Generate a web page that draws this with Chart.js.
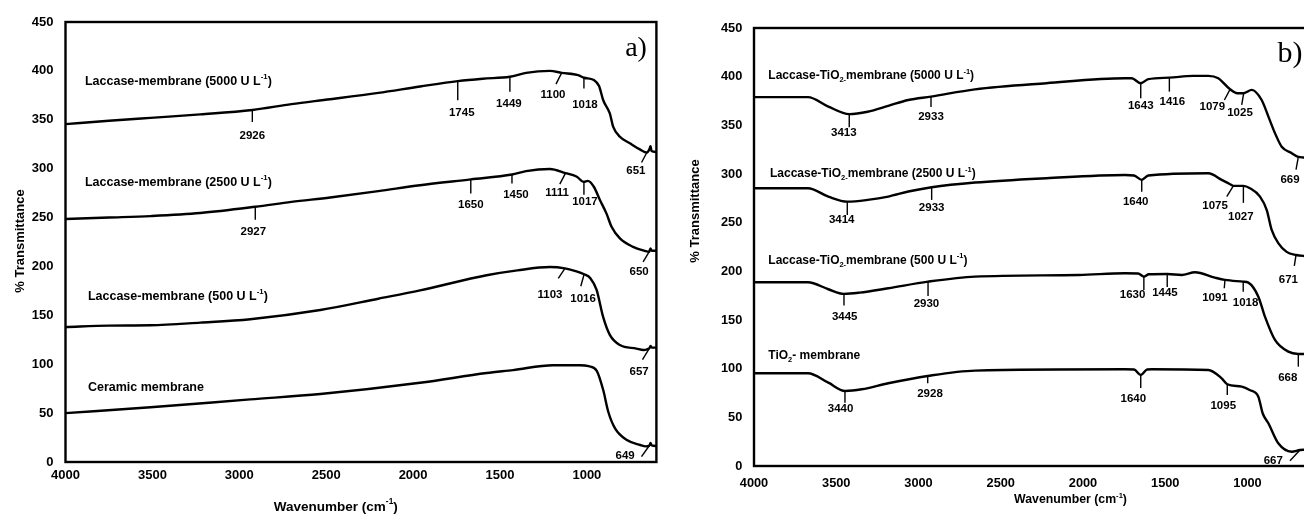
<!DOCTYPE html>
<html>
<head>
<meta charset="utf-8">
<title>FTIR spectra</title>
<script src="https://cdn.jsdelivr.net/npm/chart.js@4.4.1/dist/chart.umd.min.js"></script>
<style>
    html, body { margin: 0; padding: 0; background: #fff; overflow: hidden; width: 1304px; height: 518px; }
    .panel { position: absolute; top: 0; width: 670px; height: 518px; }
    #pa { left: 0; }
    #pb { left: 660px; }
</style>
</head>
<body>
<div class="panel" id="pa"><canvas id="chartA" width="670" height="518"></canvas></div>
<div class="panel" id="pb"><canvas id="chartB" width="670" height="518"></canvas></div>
<script>
// --- DATA (wavenumber cm-1 / % transmittance, offset) ---
const xTicks = [4000, 3500, 3000, 2500, 2000, 1500, 1000];
const yTicks = [0, 50, 100, 150, 200, 250, 300, 350, 400, 450];

// Panel a
const wnA1 = [4000, 3750, 3511, 3224, 2925, 2700, 2477, 2200, 1960, 1743, 1600, 1443, 1350, 1213, 1145, 1050, 1017, 960, 930, 906, 868, 849, 810, 753, 695, 655, 640, 634, 628, 600];
const tA1  = [345.5, 349, 352, 355.5, 360, 366, 371, 377.5, 384, 389.5, 392, 394, 398, 400, 398, 395.7, 393, 390.6, 384.5, 370, 356.5, 343, 332.6, 326, 319.7, 316.5, 320, 323, 318, 317];
const wnA2 = [4000, 3750, 3511, 3224, 2908, 2700, 2477, 2200, 1960, 1668, 1431, 1350, 1213, 1123, 1060, 1017, 995, 960, 925, 887, 858, 810, 734, 667, 642, 634, 627, 600];
const tA2  = [248.5, 250, 251.5, 254.6, 261, 266, 270.5, 277, 283, 289, 294, 297.5, 299.6, 295.5, 292, 286.5, 287.5, 281.5, 268, 254, 240.6, 228.7, 220, 216, 215, 218.5, 216, 216];
const wnA3 = [4000, 3750, 3511, 3224, 2937, 2534, 2200, 1960, 1577, 1400, 1213, 1126, 1060, 1016, 980, 944, 907, 868, 810, 715, 676, 650, 638, 634, 627, 600];
const tA3  = [138, 139.5, 139.8, 142.5, 146, 155.4, 167, 175.5, 191, 196, 199.4, 198, 195, 192, 188, 176, 148.6, 130, 119.6, 116, 114.5, 115.5, 117, 118.6, 117, 117];
const wnA4 = [4000, 3511, 2937, 2534, 1960, 1577, 1425, 1195, 1040, 990, 944, 906, 877, 838, 770, 693, 660, 645, 638, 634, 627, 600];
const tA4  = [50, 56, 64, 69.5, 81, 91, 94, 99, 99, 98, 93.5, 73.6, 51.4, 34.4, 22.5, 17.4, 16, 16.5, 17.4, 19.5, 17, 16.4];

// Panel b
const wnB1 = [4000, 3672, 3548, 3421, 3309, 3184, 3062, 2924, 2657, 2223, 1745, 1704, 1649, 1603, 1475, 1333, 1238, 1178, 1106, 1062, 1023, 974, 914, 873, 833, 792, 731, 691, 661, 600];
const tB1  = [379, 379, 369.3, 361.5, 364, 370, 376, 379.5, 387, 393.3, 398.4, 398.4, 393.3, 397.4, 399, 400.8, 400.8, 398.4, 387, 383, 383, 386.4, 376, 359, 342, 328, 321.4, 317.5, 317, 316.5];
const wnB2 = [4000, 3672, 3548, 3433, 3309, 3184, 3062, 2920, 2657, 2223, 1745, 1690, 1643, 1603, 1238, 1157, 1111, 1086, 1025, 985, 924, 883, 853, 813, 762, 705, 657, 600];
const tB2  = [285.4, 285.4, 276.8, 271.6, 273.4, 276.8, 282, 286.4, 291.2, 295.7, 299, 298.5, 294, 298.4, 300.8, 294, 290, 287.8, 287.8, 285.4, 276.8, 263, 242.5, 229, 220, 216.8, 215.8, 215.5];
const wnB3 = [4000, 3672, 3548, 3453, 3358, 3184, 2942, 2657, 2024, 1745, 1665, 1630, 1600, 1488, 1400, 1319, 1198, 1137, 1026, 995, 934, 894, 833, 752, 691, 600];
const tB3  = [188.8, 188.8, 181.6, 176.8, 178.1, 182.6, 189.4, 194.6, 196.3, 198, 197.8, 194.6, 197, 197.3, 196.3, 199, 193.5, 191.2, 189.4, 188.4, 174, 153.4, 129.5, 117.5, 115.1, 115];
const wnB4 = [4000, 3672, 3548, 3447, 3345, 3184, 2944, 2657, 1745, 1690, 1649, 1610, 1582, 1238, 1157, 1123, 1035, 987, 934, 908, 873, 813, 731, 681, 600];
const tB4  = [95.3, 95.3, 85.6, 77.1, 78.8, 85, 92.5, 98, 99.4, 99.2, 93.5, 99.2, 99.4, 98.7, 90.1, 84, 81.5, 78.1, 71.2, 54.2, 43.9, 23.3, 14.7, 16.4, 17];

// series names: [text, 0 normal | 1 superscript | -1 subscript]
const namesA = [
    [['Laccase-membrane (5000 U L', 0], ['-1', 1], [')', 0]],
    [['Laccase-membrane (2500 U L', 0], ['-1', 1], [')', 0]],
    [['Laccase-membrane (500 U L', 0], ['-1', 1], [')', 0]],
    [['Ceramic membrane', 0]]
];
const namesB = [
    [['Laccase-TiO', 0], ['2-', -1], ['membrane (5000 U L', 0], ['-1', 1], [')', 0]],
    [['Laccase-TiO', 0], ['2-', -1], ['membrane (2500 U L', 0], ['-1', 1], [')', 0]],
    [['Laccase-TiO', 0], ['2-', -1], ['membrane (500 U L', 0], ['-1', 1], [')', 0]],
    [['TiO', 0], ['2', -1], ['- membrane', 0]]
];
const nameAtA = [[3888, 389], [3888, 286], [3871, 169.7], [3871, 76]];
const nameAtB = [[3913, 400.8], [3903, 300], [3913, 211], [3913, 113]];

// peak marks: [label, wavenumber on curve, value on curve, tick dx, tick dy, label dx, label dy]
const peaksA = [
    ['2926', 2925, 360, 0, 12, 0, 25.7], ['1745', 1743, 389.5, 0, 19, 4, 31.7], ['1449', 1443, 394, 0, 15, -1, 27.3],
    ['1100', 1145, 398, -5.7, 11.3, -8.7, 22.3], ['1018', 1017, 393, 0, 10.7, 1, 27], ['651', 655, 316.5, -5.3, 10, -11, 18.7],
    ['2927', 2908, 261, 0, 13, -2, 25], ['1650', 1668, 289, 0, 14, 0, 25], ['1450', 1431, 294, 0, 9, 4, 20.5],
    ['1111', 1123, 295.5, -5.7, 11, -8.4, 20], ['1017', 1017, 286.5, 0, 13, 1, 19.7], ['650', 642, 215, -6, 10, -10, 20],
    ['1103', 1126, 198, -6.7, 10, -15, 26.7], ['1016', 1016, 192, -3.3, 12, -1, 24.3], ['657', 638, 117, -7.3, 12, -10.7, 24.4],
    ['649', 638, 17.4, -8.3, 11.7, -24.7, 11]
];
const peaksB = [
    ['3413', 3421, 361.5, 0, 13, -5.4, 18.4], ['2933', 2924, 379.5, 0, 10.3, 0, 20.6], ['1643', 1649, 393.3, 0, 15, 0, 23],
    ['1416', 1475, 399, 0, 14, 3, 23.7], ['1079', 1106, 387, -5.7, 10.7, -17.7, 17.4], ['1025', 1023, 383, -2, 11.7, -3.7, 20],
    ['669', 691, 317.5, -2.3, 12.7, -8.3, 22.7],
    ['3414', 3433, 271.6, 0, 13.3, -5.6, 18.3], ['2933', 2920, 286.4, 0, 12.7, 0, 21], ['1640', 1643, 294, 0, 12, -6, 21.7],
    ['1075', 1086, 287.8, -6.6, 10.7, -18.3, 20], ['1027', 1025, 287.8, 0, 17, -2.6, 30.7], ['671', 705, 216.8, -1.7, 11, -7.7, 25],
    ['3445', 3453, 176.8, 0, 11.7, 0.7, 23.4], ['2930', 2942, 189.4, 0, 14.3, -1.6, 22.6], ['1630', 1630, 194.6, 0, 13.3, -11.3, 18.3],
    ['1445', 1488, 197.3, 0, 13, -2.3, 19.3], ['1091', 1137, 191.2, -0.7, 8.3, -10, 18.3], ['1018', 1026, 189.4, 0, 10, 2.4, 21.6],
    ['668', 691, 115.1, 0, 12.7, -10.6, 24.3],
    ['3440', 3447, 77.1, 0, 11.7, -4.4, 18], ['2928', 2944, 92.5, 0, 7.3, 2.3, 18], ['1640', 1649, 93.5, 0, 13, -7.4, 24.3],
    ['1095', 1123, 84, 0, 10.7, -4, 21.4], ['667', 681, 16.4, -10, 10.7, -26.7, 10.7]
];

const xTitle = [['Wavenumber (cm', 0], ['-1', 1], [')', 0]];
const yTitle = '% Transmittance';

const FONT = "'Liberation Sans', Arial, sans-serif";

// --- DRAW HELPERS ---
function richText(ctx, parts, x, y, size, align) {
    const widths = parts.map(([t, s]) => {
        ctx.font = `bold ${s ? size * 0.62 : size}px ${FONT}`;
        return ctx.measureText(t).width;
    });
    const total = widths.reduce((a, b) => a + b, 0);
    let cx = align === 'center' ? x - total / 2 : x;
    ctx.textAlign = 'left';
    ctx.textBaseline = 'middle';
    parts.forEach(([t, s], i) => {
        ctx.font = `bold ${s ? size * 0.62 : size}px ${FONT}`;
        const dy = s === 1 ? -size * 0.36 : (s === -1 ? size * 0.32 : 0);
        ctx.fillText(t, cx, y + dy);
        cx += widths[i];
    });
}

const spectraPlugin = {
    id: 'spectra',
    afterDraw(chart, args, o) {
        const { ctx, chartArea: ca } = chart;
        const x = chart.scales.x, y = chart.scales.y;
        ctx.save();
        ctx.strokeStyle = '#000';
        ctx.fillStyle = '#000';

        // frame
        ctx.lineWidth = 2.4;
        ctx.strokeRect(ca.left, ca.top, ca.right - ca.left, ca.bottom - ca.top);

        // peak marks
        ctx.lineWidth = 1.4;
        o.peaks.forEach(([txt, w, v, tdx, tdy, ldx, ldy]) => {
            const px = x.getPixelForValue(w), py = y.getPixelForValue(v);
            ctx.beginPath();
            ctx.moveTo(px, py);
            ctx.lineTo(px + tdx, py + tdy);
            ctx.stroke();
            ctx.font = `bold ${o.peakSize}px ${FONT}`;
            ctx.textAlign = 'center';
            ctx.textBaseline = 'middle';
            ctx.fillText(txt, px + ldx, py + ldy);
        });

        // series names
        o.names.forEach((parts, i) => {
            const [w, v] = o.nameAt[i];
            richText(ctx, parts, x.getPixelForValue(w), y.getPixelForValue(v), o.nameSize, 'left');
        });

        // panel letter
        ctx.font = `${o.letterSize}px 'Liberation Serif', 'Times New Roman', serif`;
        ctx.textAlign = 'center';
        ctx.textBaseline = 'middle';
        ctx.fillText(o.letter, x.getPixelForValue(o.letterAt[0]), y.getPixelForValue(o.letterAt[1]));

        // axis titles
        richText(ctx, xTitle, o.xTitleAt[0], o.xTitleAt[1], o.xTitleSize, 'center');
        ctx.translate(o.yTitleAt[0], o.yTitleAt[1]);
        ctx.rotate(-Math.PI / 2);
        ctx.font = `bold ${o.yTitleSize}px ${FONT}`;
        ctx.textAlign = 'center';
        ctx.textBaseline = 'middle';
        ctx.fillText(yTitle, 0, 0);
        ctx.restore();
    }
};

function makeChart(id, series, p) {
    return new Chart(document.getElementById(id), {
        type: 'line',
        data: {
            datasets: series.map(([wn, t]) => ({
                data: wn.map((w, i) => ({ x: w, y: t[i] })),
                borderColor: '#000',
                borderWidth: 2.4,
                pointRadius: 0,
                fill: false,
                cubicInterpolationMode: 'monotone'
            }))
        },
        options: {
            responsive: false,
            animation: false,
            events: [],
            layout: { padding: { top: p.padTop, right: p.padRight, left: 0, bottom: 0 } },
            scales: {
                x: {
                    type: 'linear', reverse: true, min: 600, max: 4000,
                    afterBuildTicks: s => { s.ticks = xTicks.map(v => ({ value: v })); },
                    afterFit: s => { s.height = p.xAxisH; },
                    grid: { display: false, drawTicks: false },
                    border: { display: false },
                    ticks: { color: '#000', padding: p.xTickPad, maxRotation: 0, autoSkip: false,
                             callback: v => String(v),
                             font: { family: FONT, size: p.tickSize, weight: 'bold' } }
                },
                y: {
                    type: 'linear', min: 0, max: 450,
                    afterBuildTicks: s => { s.ticks = yTicks.map(v => ({ value: v })); },
                    afterFit: s => { s.width = p.yAxisW; },
                    grid: { display: false, drawTicks: false },
                    border: { display: false },
                    ticks: { color: '#000', padding: p.yTickPad, callback: v => String(v),
                             font: { family: FONT, size: p.tickSize, weight: 'bold' } }
                }
            },
            plugins: {
                legend: { display: false },
                tooltip: { enabled: false },
                spectra: p.annot
            }
        },
        plugins: [spectraPlugin]
    });
}

window.addEventListener('DOMContentLoaded', () => {
    makeChart('chartA', [[wnA1, tA1], [wnA2, tA2], [wnA3, tA3], [wnA4, tA4]], {
        padTop: 22, padRight: 13.6, xAxisH: 56, yAxisW: 65.5, tickSize: 13, xTickPad: 6, yTickPad: 12,
        annot: {
            peaks: peaksA, peakSize: 11.5, names: namesA, nameAt: nameAtA, nameSize: 12.5,
            letter: 'a)', letterAt: [717, 423], letterSize: 28,
            xTitleAt: [335.8, 507], xTitleSize: 13.5, yTitleAt: [20, 241], yTitleSize: 13
        }
    });
    makeChart('chartB', [[wnB1, tB1], [wnB2, tB2], [wnB3, tB3], [wnB4, tB4]], {
        padTop: 28, padRight: 16.7, xAxisH: 52, yAxisW: 94, tickSize: 12.8, xTickPad: 9.5, yTickPad: 11.7,
        annot: {
            peaks: peaksB, peakSize: 11.5, names: namesB, nameAt: nameAtB, nameSize: 12,
            letter: 'b)', letterAt: [742, 423.4], letterSize: 30,
            xTitleAt: [410.5, 500], xTitleSize: 12.3, yTitleAt: [35, 211], yTitleSize: 13
        }
    });
});
</script>
</body>
</html>
